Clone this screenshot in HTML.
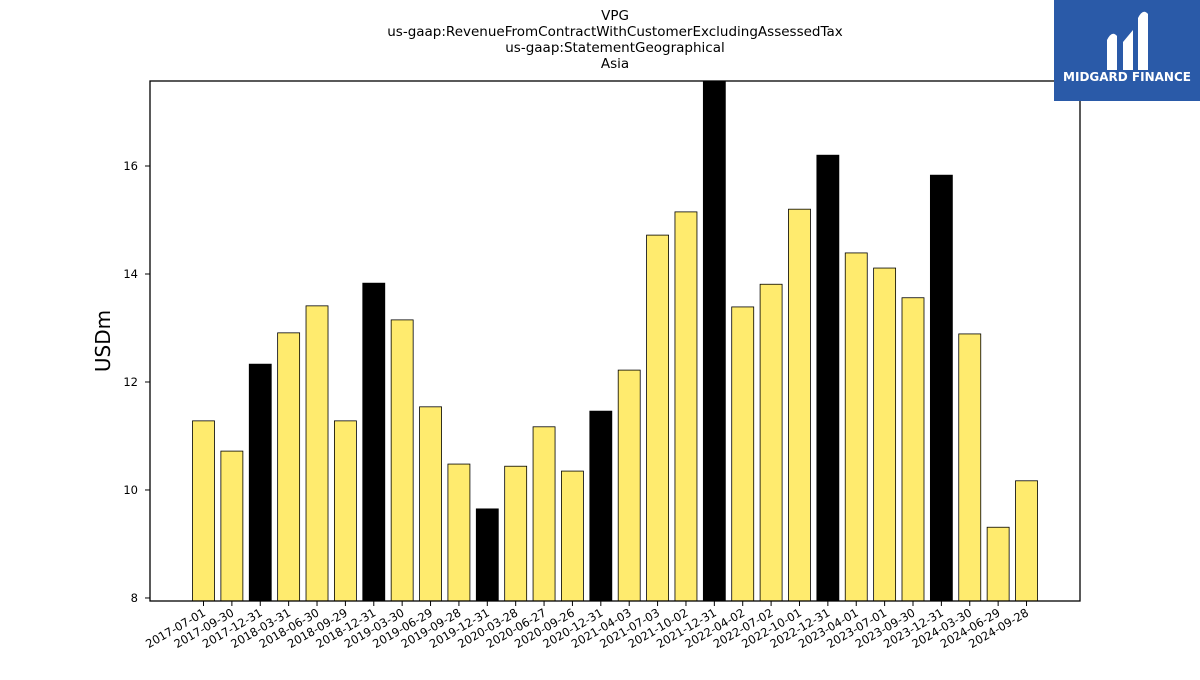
<!DOCTYPE html>
<html><head><meta charset="utf-8"><style>
body{margin:0;background:#fff;font-family:"Liberation Sans","DejaVu Sans",sans-serif}
svg text{font-family:"DejaVu Sans","Liberation Sans",sans-serif}
</style></head><body>
<svg width="1200" height="675" xmlns="http://www.w3.org/2000/svg">
<g font-size="13.5" text-anchor="middle" fill="#000">
<text x="615" y="20">VPG</text>
<text x="615" y="36">us-gaap:RevenueFromContractWithCustomerExcludingAssessedTax</text>
<text x="615" y="52">us-gaap:StatementGeographical</text>
<text x="615" y="68">Asia</text>
</g>
<g id="plot"></g>
<g>
<rect x="1054" y="0" width="146" height="101" fill="#2a5aa8"/>
<path d="M1107 70 L1107 40 Q1112 30 1117 36 L1117 70 Z M1123 70 L1123 42 L1133 30 L1133 70 Z M1138 70 L1138 18 Q1143 8 1148 14 L1148 70 Z" fill="#fff"/>
<text x="1127" y="81" font-size="12" font-weight="bold" fill="#fff" text-anchor="middle">MIDGARD FINANCE</text>
</g>
</svg>
<script>
const categories=["2017-07-01","2017-09-30","2017-12-31","2018-03-31","2018-06-30","2018-09-29","2018-12-31","2019-03-30","2019-06-29","2019-09-28","2019-12-31","2020-03-28","2020-06-27","2020-09-26","2020-12-31","2021-04-03","2021-07-03","2021-10-02","2021-12-31","2022-04-02","2022-07-02","2022-10-01","2022-12-31","2023-04-01","2023-07-01","2023-09-30","2023-12-31","2024-03-30","2024-06-29","2024-09-28"];
const values=[11.28,10.72,12.33,12.91,13.41,11.28,13.83,13.15,11.54,10.48,9.65,10.44,11.17,10.35,11.46,12.22,14.72,15.15,17.8,13.39,13.81,15.2,16.2,14.39,14.11,13.56,15.83,12.89,9.31,10.17];
const yTicks=[8,10,12,14,16];
const NS="http://www.w3.org/2000/svg";
const L=150,R=1080,T=81,B=601,yMin=7.944,yMax=17.574;
const y=v=>B-(v-yMin)/(yMax-yMin)*(B-T);
const step=(R-L)/(categories.length+2.77);
const x=i=>203.5+i*28.38;
const g=document.getElementById('plot');
function mk(t,a){const e=document.createElementNS(NS,t);for(const k in a)e.setAttribute(k,a[k]);g.appendChild(e);return e;}
const clip=document.createElementNS(NS,'clipPath');clip.setAttribute('id','c');
const cr=document.createElementNS(NS,'rect');cr.setAttribute('x',L);cr.setAttribute('y',T);cr.setAttribute('width',R-L);cr.setAttribute('height',B-T);clip.appendChild(cr);g.appendChild(clip);
categories.forEach((c,i)=>{
 const black=c.endsWith('12-31');
 const r=mk('rect',{x:x(i)-11,y:y(values[i]),width:22,height:B-y(values[i]),fill:black?'#000':'#ffeb6e',stroke:'#000','stroke-width':0.8,'clip-path':'url(#c)'});
 
 
 const tk=mk('line',{x1:x(i),x2:x(i),y1:B,y2:B+5,stroke:'#000'});
 
 
 const t=mk('text',{x:x(i)+3,y:B+14,'font-size':11.5,'text-anchor':'end',transform:`rotate(-30 ${x(i)+3} ${B+14})`});
 t.textContent=c;
 
 
});
yTicks.forEach(v=>{
 const tk=mk('line',{x1:L-5,x2:L,y1:y(v),y2:y(v),stroke:'#000'});
 
 
 const t=mk('text',{x:L-12,y:y(v)+4,'font-size':11.5,'text-anchor':'end'});
 t.textContent=v;
 
 
});
const ax=mk('rect',{x:L,y:T,width:R-L,height:B-T,fill:'none',stroke:'#000','stroke-width':1.3});


const yt=mk('text',{x:110,y:341,'font-size':20,'text-anchor':'middle',transform:'rotate(-90 110 341)'});
yt.textContent='USDm';


</script>
</body></html>
